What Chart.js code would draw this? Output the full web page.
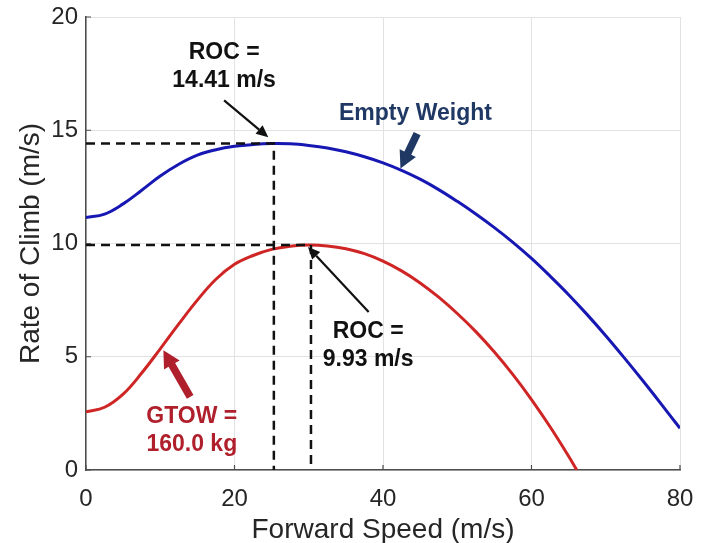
<!DOCTYPE html>
<html>
<head>
<meta charset="utf-8">
<script src="https://cdn.jsdelivr.net/npm/chart.js@4.4.1/dist/chart.umd.min.js"></script>
<style>
  html, body { margin: 0; padding: 0; background: #fff; }
  #wrap { width: 704px; height: 543px; }
</style>
</head>
<body>
<div id="wrap"><canvas id="roc-chart" width="704" height="543"></canvas></div>
<script>
// forward speed (m/s) and rate of climb (m/s)
const speedEmpty = [0, 2.5, 5, 7.5, 10, 12.5, 15, 17.5, 20, 22.5, 25, 27.5, 30, 32.5, 35, 37.5,
  40, 42.5, 45, 47.5, 50, 52.5, 55, 57.5, 60, 62.5, 65, 67.5, 70, 72.5, 75, 77.5, 80];
const rocEmpty = [11.15, 11.3, 11.75, 12.35, 12.98, 13.5, 13.9, 14.14, 14.29, 14.37, 14.41, 14.4,
  14.33, 14.22, 14.05, 13.83, 13.56, 13.23, 12.84, 12.38, 11.86, 11.3, 10.7, 10.05, 9.34, 8.56,
  7.74, 6.86, 5.93, 4.95, 3.94, 2.9, 1.84];

const speedGtow = [0, 2.5, 5, 7.5, 10, 12.5, 15, 17.5, 20, 22.5, 25, 27.5, 30, 32.5, 35, 37.5,
  40, 42.5, 45, 47.5, 50, 52.5, 55, 57.5, 60, 62.5, 65, 66.1];
const rocGtow = [2.57, 2.77, 3.35, 4.28, 5.35, 6.45, 7.5, 8.42, 9.08, 9.47, 9.74, 9.88, 9.93,
  9.89, 9.77, 9.55, 9.22, 8.79, 8.26, 7.63, 6.91, 6.11, 5.21, 4.21, 3.11, 1.91, 0.61, 0];

// best-climb points: [empty, gtow]
const peakSpeed = [25.3, 30.3];
const peakRoc = [14.41, 9.93];

const xTicks = [0, 20, 40, 60, 80];
const yTicks = [0, 5, 10, 15, 20];

function pairs(xs, ys) {
  return xs.map((x, i) => ({ x: x, y: ys[i] }));
}

function guide(i) {
  return [{ x: 0, y: peakRoc[i] }, { x: peakSpeed[i], y: peakRoc[i] }, { x: peakSpeed[i], y: 0 }];
}

const dashed = {
  type: 'line', borderColor: '#111', borderWidth: 2.5, borderDash: [9, 6],
  pointRadius: 0, tension: 0, fill: false
};

// inward tick marks like the original plot
const innerTicks = {
  id: 'innerTicks',
  afterDatasetsDraw(chart) {
    const { ctx, chartArea: a, scales: { x, y } } = chart;
    ctx.save();
    ctx.strokeStyle = '#4d4d4d';
    ctx.lineWidth = 1.2;
    ctx.beginPath();
    xTicks.forEach(v => {
      const px = x.getPixelForValue(v);
      ctx.moveTo(px, a.bottom); ctx.lineTo(px, a.bottom - 5);
    });
    yTicks.forEach(v => {
      const py = y.getPixelForValue(v);
      ctx.moveTo(a.left, py); ctx.lineTo(a.left + 5, py);
    });
    ctx.stroke();
    ctx.restore();
  }
};

function lineArrow(ctx, x1, y1, x2, y2, color) {
  const ang = Math.atan2(y2 - y1, x2 - x1);
  const hl = 12, hw = 5.5;
  ctx.strokeStyle = color; ctx.fillStyle = color; ctx.lineWidth = 2.2;
  ctx.beginPath();
  ctx.moveTo(x1, y1);
  ctx.lineTo(x2 - Math.cos(ang) * hl, y2 - Math.sin(ang) * hl);
  ctx.stroke();
  ctx.beginPath();
  ctx.moveTo(x2, y2);
  ctx.lineTo(x2 - Math.cos(ang) * hl - Math.sin(ang) * hw, y2 - Math.sin(ang) * hl + Math.cos(ang) * hw);
  ctx.lineTo(x2 - Math.cos(ang) * hl + Math.sin(ang) * hw, y2 - Math.sin(ang) * hl - Math.cos(ang) * hw);
  ctx.closePath();
  ctx.fill();
}

function blockArrow(ctx, x1, y1, x2, y2, color) {
  const ang = Math.atan2(y2 - y1, x2 - x1);
  const len = Math.hypot(x2 - x1, y2 - y1);
  const hl = 17, hw = 9, sw = 3.8;
  ctx.save();
  ctx.translate(x1, y1);
  ctx.rotate(ang);
  ctx.fillStyle = color;
  ctx.beginPath();
  ctx.moveTo(0, -sw);
  ctx.lineTo(len - hl, -sw);
  ctx.lineTo(len - hl, -hw);
  ctx.lineTo(len, 0);
  ctx.lineTo(len - hl, hw);
  ctx.lineTo(len - hl, sw);
  ctx.lineTo(0, sw);
  ctx.closePath();
  ctx.fill();
  ctx.restore();
}

const callouts = {
  id: 'callouts',
  afterDatasetsDraw(chart) {
    const { ctx, scales: { x, y } } = chart;
    const px = v => x.getPixelForValue(v);
    const py = v => y.getPixelForValue(v);
    ctx.save();
    ctx.font = 'bold 23px "Liberation Sans", Arial, sans-serif';
    ctx.textAlign = 'center';
    ctx.textBaseline = 'middle';

    ctx.fillStyle = '#111';
    ctx.fillText('ROC =', px(18.6), py(18.44));
    ctx.fillText('14.41 m/s', px(18.6), py(17.2));
    lineArrow(ctx, px(18.6), py(16.32), px(24.55), py(14.69), '#111');

    ctx.fillText('ROC =', px(38.0), py(6.1));
    ctx.fillText('9.93 m/s', px(38.0), py(4.85));
    lineArrow(ctx, px(38.07), py(6.98), px(29.9), py(9.85), '#111');

    ctx.fillStyle = '#1f3864';
    ctx.fillText('Empty Weight', px(44.37), py(15.75));
    blockArrow(ctx, px(44.6), py(14.85), px(42.35), py(13.31), '#1f3864');

    ctx.fillStyle = '#b01f2c';
    ctx.fillText('GTOW =', px(14.25), py(2.35));
    ctx.fillText('160.0 kg', px(14.25), py(1.1));
    blockArrow(ctx, px(14.03), py(3.23), px(10.42), py(5.29), '#b01f2c');
    ctx.restore();
  }
};

const ctx = document.getElementById('roc-chart').getContext('2d');
new Chart(ctx, {
  type: 'line',
  data: {
    datasets: [
      Object.assign({ label: 'Empty peak', data: guide(0) }, dashed),
      Object.assign({ label: 'GTOW peak', data: guide(1) }, dashed),
      {
        label: 'Empty Weight',
        data: pairs(speedEmpty, rocEmpty),
        borderColor: '#1717b3',
        borderWidth: 3,
        pointRadius: 0,
        tension: 0.4,
        fill: false
      },
      {
        label: 'GTOW = 160.0 kg',
        data: pairs(speedGtow, rocGtow),
        borderColor: '#cf2525',
        borderWidth: 3,
        pointRadius: 0,
        tension: 0.4,
        fill: false
      }
    ]
  },
  options: {
    responsive: false,
    animation: false,
    layout: { padding: { top: 17, right: 24, left: 0, bottom: 0 } },
    plugins: {
      legend: { display: false },
      tooltip: { enabled: false }
    },
    scales: {
      x: {
        type: 'linear', min: 0, max: 80,
        afterFit: s => { s.height = 73; s.paddingLeft = 0; s.paddingRight = 0; },
        afterBuildTicks: s => { s.ticks = xTicks.map(v => ({ value: v })); },
        grid: { color: '#e2e2e2', drawTicks: false },
        border: { color: '#4d4d4d', width: 1.5 },
        ticks: { color: '#262626', padding: 15, font: { family: '"Liberation Sans", Arial, sans-serif', size: 24 } },
        title: {
          display: true, text: 'Forward Speed (m/s)', color: '#262626',
          padding: { top: 0, bottom: 0 },
          font: { family: '"Liberation Sans", Arial, sans-serif', size: 28, lineHeight: 0.9 }
        }
      },
      y: {
        type: 'linear', min: 0, max: 20,
        afterFit: s => { s.width = 86; s.paddingTop = 0; s.paddingBottom = 0; },
        afterBuildTicks: s => { s.ticks = yTicks.map(v => ({ value: v })); },
        grid: { color: '#e2e2e2', drawTicks: false },
        border: { color: '#4d4d4d', width: 1.5 },
        ticks: { color: '#262626', padding: 8, font: { family: '"Liberation Sans", Arial, sans-serif', size: 24 } },
        title: {
          display: true, text: 'Rate of Climb (m/s)', color: '#262626',
          padding: { top: 14, bottom: 0 },
          font: { family: '"Liberation Sans", Arial, sans-serif', size: 28 }
        }
      }
    }
  },
  plugins: [innerTicks, callouts]
});
</script>
</body>
</html>
